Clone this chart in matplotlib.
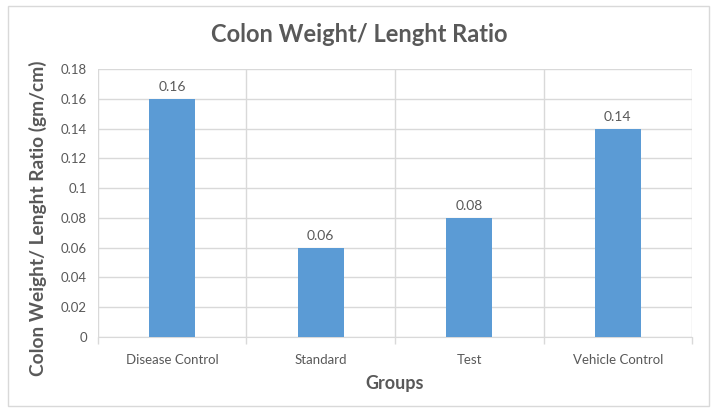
import matplotlib.pyplot as plt
from matplotlib.patches import Rectangle
import numpy as np

plt.rcParams['font.family'] = ['Lato', 'DejaVu Sans']

groups = ['Disease Control', 'Standard', 'Test', 'Vehicle Control']
ratios = [0.16, 0.06, 0.08, 0.14]
yticks = [0, 0.02, 0.04, 0.06, 0.08, 0.1, 0.12, 0.14, 0.16, 0.18]
ytick_labels = ['0', '0.02', '0.04', '0.06', '0.08', '0.1', '0.12', '0.14', '0.16', '0.18']

bar_color = '#5B9BD5'
text_color = '#595959'
grid_color = '#D9D9D9'

fig = plt.figure(figsize=(7.15, 4.11), dpi=100)
ax = fig.add_axes([0.137, 0.180, 0.831, 0.652])

x = np.arange(len(groups))
ax.bar(x, ratios, width=0.31, color=bar_color, zorder=3)
for xi, v in zip(x, ratios):
    ax.text(xi, v + 0.004, f'{v:g}', ha='center', va='bottom',
            fontsize=10, color=text_color)

ax.set_xlim(-0.5, len(groups) - 0.5)
ax.set_ylim(0, 0.18)
ax.set_yticks(yticks)
ax.set_yticklabels(ytick_labels)
ax.set_xticks(x)
ax.set_xticklabels(groups)

# category boundaries: grid lines plus small tick marks under the axis
bounds = np.arange(-0.5, len(groups), 1.0)
ax.set_xticks(bounds, minor=True)
ax.tick_params(axis='x', which='major', length=0, pad=12, labelsize=9.5,
               labelcolor=text_color)
ax.tick_params(axis='x', which='minor', length=5, color=grid_color, width=1)
ax.tick_params(axis='y', length=0, pad=8, labelsize=9.5, labelcolor=text_color)
ax.grid(axis='y', color=grid_color, linewidth=1, zorder=0)
ax.grid(axis='x', which='minor', color=grid_color, linewidth=1, zorder=0)

for side in ['top', 'right', 'left']:
    ax.spines[side].set_visible(False)
ax.spines['bottom'].set_color(grid_color)

ax.set_xlabel('Groups', fontsize=13, fontweight='bold', color=text_color, labelpad=7)
ax.set_ylabel('Colon Weight/ Lenght Ratio (gm/cm)', fontsize=13.8, fontweight='bold',
              color=text_color)
ax.yaxis.set_label_coords(-0.086, 0.444)
fig.text(0.503, 0.915, 'Colon Weight/ Lenght Ratio', ha='center', va='center',
         fontsize=17, fontweight='bold', color=text_color)

# outer chart border
fig.patches.append(Rectangle((0.011, 0.012), 0.98, 0.973, transform=fig.transFigure,
                             fill=False, edgecolor=grid_color, linewidth=1))

fig.savefig('out.png', dpi=100)
